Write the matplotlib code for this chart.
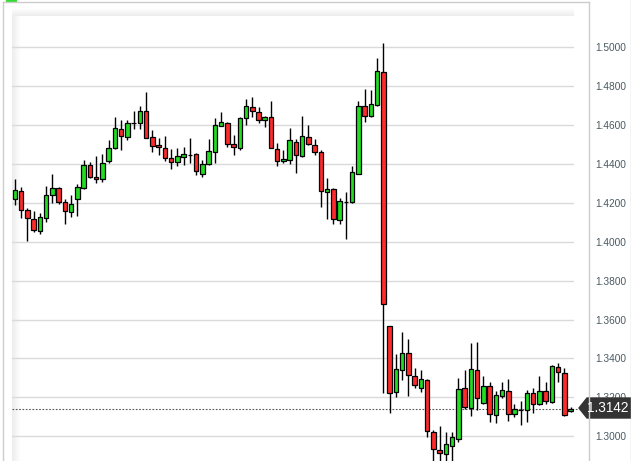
import numpy as np
import matplotlib
matplotlib.use('Agg')
import matplotlib.pyplot as plt
from matplotlib.colors import LinearSegmentedColormap
from matplotlib.patches import Polygon, Rectangle
from matplotlib.lines import Line2D

# daily candles
opens = [1.4218, 1.4260, 1.4162, 1.4116, 1.4056, 1.4121, 1.4239, 1.4275, 1.4203, 1.4152,
         1.4218, 1.4275, 1.4393, 1.4332, 1.4321, 1.4414, 1.4481, 1.4578, 1.4537, 1.4612,
         1.4609, 1.4671, 1.4537, 1.4496, 1.4481, 1.4429, 1.4409, 1.4434, 1.4447, 1.4450,
         1.4347, 1.4398, 1.4460, 1.4594, 1.4609, 1.4501, 1.4481, 1.4635, 1.4692, 1.4666,
         1.4625, 1.4640, 1.4476, 1.4414, 1.4419, 1.4512, 1.4440, 1.4537, 1.4496, 1.4460,
         1.4254, 1.4270, 1.4111, 1.4203, 1.4203, 1.4347, 1.4697, 1.4645, 1.4702, 1.4871,
         1.3566, 1.3226, 1.3339, 1.3427, 1.3308, 1.3247, 1.3288, 1.3021, 1.2928, 1.2908,
         1.2949, 1.2985, 1.3247, 1.3144, 1.3339, 1.3170, 1.3257, 1.3108, 1.3206, 1.3231,
         1.3113, 1.3134, 1.3134, 1.3221, 1.3165, 1.3231, 1.3175, 1.3355, 1.3324, 1.3129]
highs = [1.4321, 1.4280, 1.4172, 1.4160, 1.4147, 1.4285, 1.4349, 1.4280, 1.4218, 1.4239,
         1.4296, 1.4419, 1.4410, 1.4441, 1.4451, 1.4522, 1.4640, 1.4625, 1.4625, 1.4671,
         1.4697, 1.4769, 1.4573, 1.4532, 1.4542, 1.4476, 1.4481, 1.4486, 1.4532, 1.4455,
         1.4419, 1.4527, 1.4635, 1.4666, 1.4614, 1.4548, 1.4643, 1.4733, 1.4743, 1.4692,
         1.4645, 1.4722, 1.4506, 1.4470, 1.4584, 1.4527, 1.4645, 1.4599, 1.4527, 1.4470,
         1.4326, 1.4275, 1.4224, 1.4254, 1.4388, 1.4722, 1.4784, 1.4779, 1.4947, 1.5021,
         1.3566, 1.3422, 1.3535, 1.3502, 1.3350, 1.3339, 1.3293, 1.3031, 1.3051, 1.3021,
         1.3021, 1.3298, 1.3339, 1.3478, 1.3483, 1.3308, 1.3278, 1.3231, 1.3278, 1.3293,
         1.3165, 1.3180, 1.3236, 1.3247, 1.3308, 1.3278, 1.3365, 1.3375, 1.3350, 1.3149]
lows = [1.4189, 1.4121, 1.4006, 1.4049, 1.4040, 1.4103, 1.4198, 1.4193, 1.4090, 1.4129,
        1.4131, 1.4270, 1.4326, 1.4301, 1.4309, 1.4407, 1.4476, 1.4470, 1.4522, 1.4578,
        1.4578, 1.4532, 1.4460, 1.4445, 1.4414, 1.4373, 1.4388, 1.4393, 1.4404, 1.4342,
        1.4332, 1.4393, 1.4404, 1.4594, 1.4486, 1.4445, 1.4470, 1.4599, 1.4640, 1.4609,
        1.4589, 1.4481, 1.4388, 1.4404, 1.4398, 1.4352, 1.4434, 1.4496, 1.4445, 1.4177,
        1.4116, 1.4090, 1.4090, 1.4013, 1.4198, 1.4347, 1.4614, 1.4640, 1.4697, 1.3224,
        1.3121, 1.3201, 1.3288, 1.3206, 1.3247, 1.3226, 1.2998, 1.2860, 1.2860, 1.2860,
        1.2865, 1.2969, 1.3139, 1.3103, 1.3134, 1.3165, 1.3072, 1.3067, 1.3195, 1.3077,
        1.3098, 1.3057, 1.3072, 1.3118, 1.3159, 1.3165, 1.3170, 1.3278, 1.3103, 1.3123]
closes = [1.4265, 1.4162, 1.4121, 1.4059, 1.4126, 1.4239, 1.4275, 1.4203, 1.4157, 1.4193,
          1.4280, 1.4393, 1.4332, 1.4321, 1.4404, 1.4481, 1.4584, 1.4542, 1.4609, 1.4612,
          1.4671, 1.4532, 1.4491, 1.4486, 1.4429, 1.4409, 1.4440, 1.4450, 1.4447, 1.4362,
          1.4398, 1.4465, 1.4599, 1.4614, 1.4501, 1.4486, 1.4635, 1.4697, 1.4671, 1.4625,
          1.4640, 1.4481, 1.4414, 1.4424, 1.4522, 1.4445, 1.4542, 1.4501, 1.4460, 1.4260,
          1.4270, 1.4116, 1.4208, 1.4203, 1.4357, 1.4697, 1.4645, 1.4707, 1.4877, 1.3680,
          1.3221, 1.3344, 1.3427, 1.3314, 1.3262, 1.3293, 1.3026, 1.2933, 1.2913, 1.2959,
          1.2995, 1.3242, 1.3149, 1.3344, 1.3195, 1.3257, 1.3113, 1.3211, 1.3236, 1.3113,
          1.3139, 1.3134, 1.3221, 1.3165, 1.3231, 1.3180, 1.3360, 1.3329, 1.3108, 1.3142]
last_price = 1.3142
price_ticks = [1.30, 1.32, 1.34, 1.36, 1.38, 1.40, 1.42, 1.44, 1.46, 1.48, 1.50]

W, H = 631, 461
def fx(x):
    return x / W
def fy(y):
    return 1 - y / H

fig = plt.figure(figsize=(6.31, 4.61), dpi=100)
fig.patch.set_facecolor('white')
ax = fig.add_axes([fx(12), 0, (574 - 12) / W, (461 - 8) / H])
ax.set_facecolor('white')

o = np.array(opens); h = np.array(highs); l = np.array(lows); c = np.array(closes)
x = np.arange(len(o))
cols = np.where(c > o, '#22dd22', np.where(c < o, '#ff2b2b', 'black'))

ax.vlines(x, l, h, color='black', lw=1.0, zorder=3)
ax.bar(x, np.abs(c - o), bottom=np.minimum(o, c), width=0.72, color=cols,
       edgecolor='black', linewidth=0.9, zorder=4)

# soft shading along the left and top edges
fade = LinearSegmentedColormap.from_list('fade', ['#ededed', '#ffffff'])
ax.imshow(np.linspace(0, 1, 50).reshape(1, -1), cmap=fade, aspect='auto',
          extent=[0, 9 / 562, 0, 1], transform=ax.transAxes, zorder=0)
ax.imshow(np.linspace(1, 0, 50).reshape(-1, 1), cmap=fade, aspect='auto',
          extent=[0, 1, 1 - 8 / 453, 1], transform=ax.transAxes, zorder=0)

ax.set_xlim(-0.48, 89.53)
ax.set_ylim(1.2873, 1.5202)

ax.set_yticks(price_ticks)
ax.set_yticklabels(['%.4f' % p for p in price_ticks])
ax.yaxis.tick_right()
ax.tick_params(axis='y', length=0, pad=15, labelsize=7.3, labelcolor='#4a5a62')
for t in ax.get_yticklabels():
    t.set_family('Liberation Sans')
ax.set_xticks([])
ax.grid(axis='y', color='#dadada', lw=1.0, zorder=1)
for s in ax.spines.values():
    s.set_visible(False)

# last price dotted line and tag
x_end = (579 - 574) / 562 * 90.01 + 89.53
ax.plot([-0.48, x_end], [last_price, last_price], color='#555555', lw=0.8,
        linestyle=(0, (1.5, 1.5)), clip_on=False, zorder=2)
yt = fy(408)
tag = Polygon([(fx(579), yt), (fx(587), fy(398)), (fx(631), fy(398)),
               (fx(631), fy(418)), (fx(587), fy(418))],
              closed=True, transform=fig.transFigure, color='#333333')
fig.patches.append(tag)
fig.text(fx(608), yt, '%.4f' % last_price, color='white', fontsize=9.8,
         family='Liberation Sans', ha='center', va='center')

# frame
fc = '#cccccc'
fig.add_artist(Line2D([fx(2.5), fx(2.5)], [fy(2.5), 0], color=fc, lw=1))
fig.add_artist(Line2D([fx(2.5), fx(588.5)], [fy(2.5), fy(2.5)], color=fc, lw=1))
fig.add_artist(Line2D([fx(588.5), fx(588.5)], [fy(2.5), 0], color=fc, lw=1))
fig.add_artist(Line2D([fx(630.5), fx(630.5)], [1, 0], color=fc, lw=1))
fig.patches.append(Rectangle((fx(6), fy(1.5)), 10 / W, 1.5 / H,
                             transform=fig.transFigure, color='#33dd33'))

plt.savefig('out.png', dpi=100)
